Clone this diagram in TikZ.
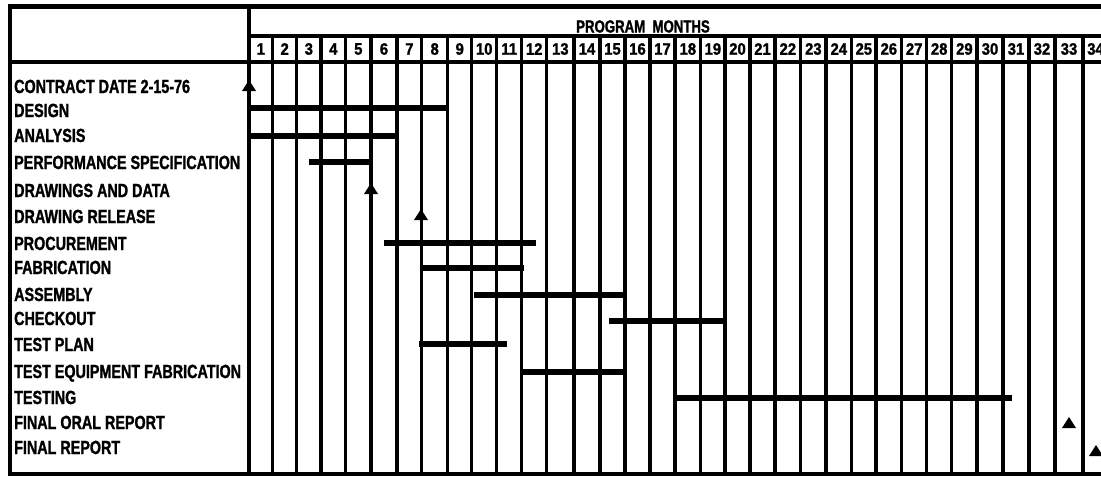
\documentclass[tikz,border=0pt]{standalone}
\usepackage{fontspec}
\setmainfont{Liberation Sans}[FakeStretch=0.755, BoldFeatures={FakeBold=1.3}]
\newfontfamily\numfont{Liberation Sans}[FakeStretch=0.9, BoldFeatures={FakeBold=1.3}]
\usetikzlibrary{calc}
\tikzset{
  frame/.style={line width=3.5pt},
  gridline/.style={line width=3.2pt},
  bar/.style={line width=6.5pt},
  milestone/.style={fill=black},
  task/.style={anchor=base west, inner sep=0pt, font=\fontsize{19}{20}\selectfont\bfseries},
  month/.style={inner sep=0pt, font=\fontsize{16.5}{18}\selectfont\numfont\bfseries},
  title/.style={inner sep=0pt, font=\fontsize{17.5}{19}\selectfont\bfseries},
}
\begin{document}
\begin{tikzpicture}[x=1pt,y=-1pt]
\useasboundingbox (0,0) rectangle (1101,480);
\fill[white] (0,0) rectangle (1101,480);

% grid columns
\def\gx{249,272.7,296.7,321,345.7,371,397,421.7,447.7,471.7,496.7,521.7,546.7,574,600,625,650,675,700.7,725,750,775,800.7,826,851.7,876,901.7,926.7,951.7,977,1003,1029,1055,1083,1108}
\foreach \x [count=\i from 0] in \gx { \coordinate (g\i) at (\x,36); }
\coordinate (bot) at (0,474);

\foreach \i in {1,...,33} { \draw[gridline] (g\i) -- (g\i |- bot); }

% frame
\draw[frame, line width=5pt] (8,6) -- (1101,6);
\draw[frame] (10,4) -- (10,476);
\draw[frame] (8,474) -- (1101,474);
\draw[gridline] (10,62) -- (1101,62);
\draw[gridline] (249,36) -- (1101,36);
\draw[gridline] (249,6) -- (249,474);

% header
\node[title, anchor=base] (hdr) at (643,32.5) {PROGRAM\ \ MONTHS};
\foreach \i [evaluate=\i as \j using int(\i-1)] in {1,...,34} {
  \node[month, yshift=-13pt] (m\i) at ($(g\j)!0.5!(g\i)$) {\i};
}

% task labels
\node[task] (t1)  at (14,93)  {CONTRACT DATE 2-15-76};
\node[task] (t2)  at (14,117) {DESIGN};
\node[task] (t3)  at (14,142) {ANALYSIS};
\node[task] (t4)  at (14,169) {PERFORMANCE SPECIFICATION};
\node[task] (t5)  at (14,197) {DRAWINGS AND DATA};
\node[task] (t6)  at (14,223) {DRAWING RELEASE};
\node[task] (t7)  at (14,250) {PROCUREMENT};
\node[task] (t8)  at (14,274) {FABRICATION};
\node[task] (t9)  at (14,301) {ASSEMBLY};
\node[task] (t10) at (14,325) {CHECKOUT};
\node[task] (t11) at (14,351) {TEST PLAN};
\node[task] (t12) at (14,378) {TEST EQUIPMENT FABRICATION};
\node[task] (t13) at (14,404) {TESTING};
\node[task] (t14) at (14,429) {FINAL ORAL REPORT};
\node[task] (t15) at (14,454) {FINAL REPORT};

% bars
\draw[bar] (249,108) -- (447.7,108);
\draw[bar] (249,136) -- (397,136);
\draw[bar] (309,162) -- (372,162);
\draw[bar] (384,243) -- (536,243);
\draw[bar] (421,268) -- (524,268);
\draw[bar] (474,295) -- (623,295);
\draw[bar] (609,321) -- (724,321);
\draw[bar] (419,344) -- (507,344);
\draw[bar] (523,372) -- (623,372);
\draw[bar] (675,398) -- (1012,398);

% milestones
\fill[milestone] (249,80) -- (256,91) -- (242,91) -- cycle;
\fill[milestone] (371,183) -- (378,194) -- (364,194) -- cycle;
\fill[milestone] (421,209) -- (428,220) -- (414,220) -- cycle;
\fill[milestone] (1069,417) -- (1076,428) -- (1062,428) -- cycle;
\fill[milestone] (1096,445) -- (1103,456) -- (1089,456) -- cycle;
\end{tikzpicture}
\end{document}
